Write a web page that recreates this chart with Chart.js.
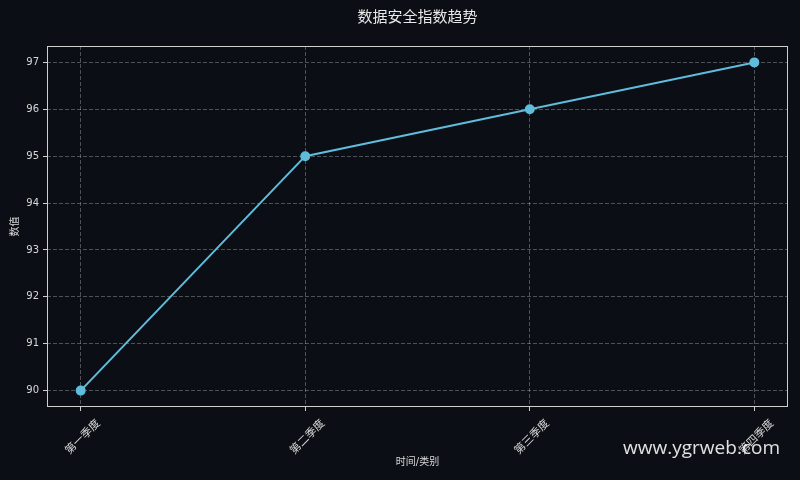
<!DOCTYPE html>
<html>
<head>
<meta charset="utf-8">
<script src="https://cdn.jsdelivr.net/npm/chart.js@4.4.1/dist/chart.umd.min.js"></script>
<style>
  html, body { margin: 0; padding: 0; background: #0b0e14; }
  #wrap { width: 800px; height: 480px; }
</style>
</head>
<body>
<div id="wrap"><canvas id="trendChart"></canvas></div>
<script>
// chart data
const categories = ["第一季度", "第二季度", "第三季度", "第四季度"];
const indexValues = [90, 95, 96, 97];
const yTicks = [90, 91, 92, 93, 94, 95, 96, 97];

const CJK = "'DejaVu Sans', 'Noto Sans CJK SC', sans-serif";
const textColor = "#d8d8d8";
const gridColor = "rgba(255, 255, 255, 0.28)";

// draw the box around the plot and the watermark
const frameAndMark = {
  id: "frameAndMark",
  afterDraw(chart) {
    const { ctx, chartArea } = chart;
    ctx.save();
    ctx.strokeStyle = "#cfcfcf";
    ctx.lineWidth = 1;
    ctx.strokeRect(chartArea.left + 0.5, chartArea.top + 0.5,
      chartArea.right - chartArea.left - 1, chartArea.bottom - chartArea.top - 1);

    ctx.font = "19px 'Open Sans', 'Noto Sans', sans-serif";
    ctx.fillStyle = "rgba(255, 255, 255, 0.88)";
    ctx.textAlign = "right";
    ctx.textBaseline = "alphabetic";
    ctx.fillText("www.ygrweb.com", 780, 454);
    ctx.restore();
  },
};

const chartData = categories.map((c, i) => ({ x: i, y: indexValues[i] }));

new Chart(document.getElementById("trendChart"), {
  type: "line",
  data: {
    datasets: [
      {
        label: "数据安全指数",
        data: chartData,
        borderColor: "#60bcdb",
        backgroundColor: "#60bcdb",
        borderWidth: 2,
        pointRadius: 4,
        pointHoverRadius: 4,
        tension: 0,
        fill: false,
      },
    ],
  },
  options: {
    responsive: true,
    maintainAspectRatio: false,
    animation: false,
    layout: { padding: { left: 0, right: 12, top: 0, bottom: 0 } },
    plugins: {
      legend: { display: false },
      tooltip: { enabled: false },
      title: {
        display: true,
        text: "数据安全指数趋势",
        color: "#e8e8e8",
        fullSize: false,
        font: { family: CJK, size: 15, weight: "normal" },
        padding: { top: 9, bottom: 19 },
      },
    },
    scales: {
      x: {
        type: "linear",
        min: -0.15,
        max: 3.15,
        afterBuildTicks(scale) {
          scale.ticks = categories.map((c, i) => ({ value: i }));
        },
        afterFit(scale) {
          scale.height = 73;
        },
        ticks: {
          color: textColor,
          font: { family: CJK, size: 11 },
          minRotation: 45,
          maxRotation: 45,
          labelOffset: 18,
          padding: 6,
          callback: (v) => categories[v] ?? "",
        },
        grid: {
          color: gridColor,
          tickColor: "#cfcfcf",
          tickLength: 4,
          tickBorderDash: [],
          drawTicks: true,
        },
        border: { display: false, dash: [4, 2] },
        title: {
          display: true,
          text: "时间/类别",
          color: textColor,
          font: { family: CJK, size: 10 },
          padding: { top: 0, bottom: 12 },
        },
      },
      y: {
        min: 89.65,
        max: 97.35,
        afterBuildTicks(scale) {
          scale.ticks = yTicks.map((v) => ({ value: v }));
        },
        afterFit(scale) {
          scale.width = 47;
        },
        ticks: {
          color: textColor,
          font: { family: CJK, size: 10 },
          padding: 4,
        },
        grid: {
          color: gridColor,
          tickColor: "#cfcfcf",
          tickLength: 4,
          tickBorderDash: [],
          drawTicks: true,
        },
        border: { display: false, dash: [4, 2] },
        title: {
          display: true,
          text: "数值",
          color: textColor,
          font: { family: CJK, size: 10 },
          padding: { top: 9, bottom: 0 },
        },
      },
    },
  },
  plugins: [frameAndMark],
});
</script>
</body>
</html>
